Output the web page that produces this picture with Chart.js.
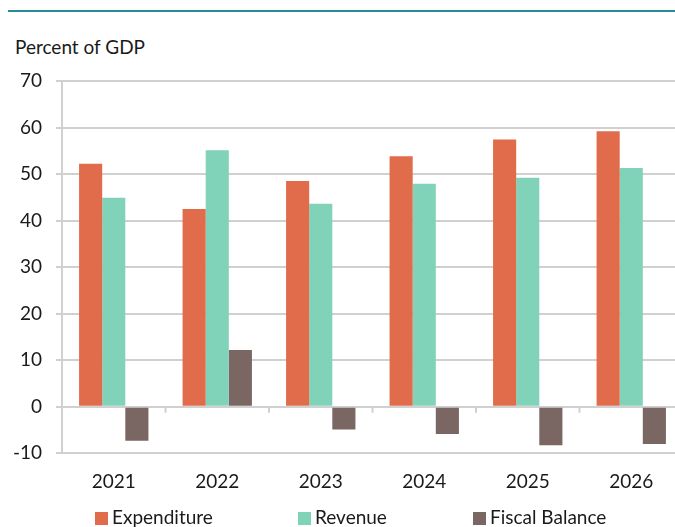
<!DOCTYPE html>
<html>
<head>
<meta charset="utf-8">
<script src="https://cdn.jsdelivr.net/npm/chart.js@4"></script>
<style>
    html, body { margin: 0; padding: 0; background: #fff; overflow: hidden; }
    body { width: 675px; height: 527px; position: relative; font-family: Lato, "Open Sans", sans-serif; color: #1a1a1a; }
    .topRule { position: absolute; left: 8px; right: 0; top: 10px; height: 2px; background: #2b8a98; }
    .unit { position: absolute; left: 15px; top: 35px; font-size: 19px; }
    .chartBox { position: absolute; left: 0; top: 0; width: 683px; height: 527px; }
    #legend { position: absolute; top: 505px; left: 0; width: 675px; height: 24px; font-size: 19px; }
    #legend span.item { position: absolute; top: 0; white-space: nowrap; }
    #legend i { display: inline-block; width: 13px; height: 13px; margin-right: 4px; vertical-align: -1px; }
</style>
</head>
<body>
<div class="topRule"></div>
<div class="unit">Percent of GDP</div>
<div class="chartBox"><canvas id="fiscalChart" width="683" height="527"></canvas></div>
<div id="legend"></div>
<script>
const years = ['2021', '2022', '2023', '2024', '2025', '2026'];
const expenditure = [52.2, 42.5, 48.5, 53.8, 57.4, 59.2];
const revenue = [44.9, 55.1, 43.6, 47.9, 49.2, 51.3];
const fiscalBalance = [-7.3, 12.2, -4.9, -5.9, -8.3, -8.0];

const seriesNames = ['Expenditure', 'Revenue', 'Fiscal Balance'];
const seriesColors = ['#e06c4b', '#80d2b9', '#7a6662'];
const legendLeft = [95, 298, 473];

const gridGray = '#d0d0d0';

// little ticks on the zero line between the years, like the original
const zeroTicks = {
    id: 'zeroTicks',
    afterDatasetsDraw(chart) {
        const x = chart.scales.x;
        const y0 = chart.scales.y.getPixelForValue(0);
        const c = chart.ctx;
        c.save();
        c.strokeStyle = gridGray;
        c.lineWidth = 2;
        for (let i = 0; i < years.length - 1; i++) {
            const px = (x.getPixelForValue(i) + x.getPixelForValue(i + 1)) / 2;
            c.beginPath();
            c.moveTo(px, y0);
            c.lineTo(px, y0 + 6);
            c.stroke();
        }
        c.restore();
    }
};

const values = [expenditure, revenue, fiscalBalance];

new Chart(document.getElementById('fiscalChart').getContext('2d'), {
    type: 'bar',
    data: {
        labels: years,
        datasets: seriesNames.map((name, i) => ({
            label: name,
            data: values[i],
            backgroundColor: seriesColors[i],
            borderWidth: 0,
            barPercentage: 1,
            categoryPercentage: 0.67
        }))
    },
    options: {
        responsive: false,
        animation: false,
        layout: { padding: { top: 81, bottom: 17, left: 0, right: 0 } },
        plugins: {
            legend: { display: false },
            tooltip: { enabled: false }
        },
        scales: {
            x: {
                grid: { display: false, drawTicks: false },
                border: { display: false },
                ticks: { color: '#1a1a1a', font: { family: 'Lato', size: 19 }, padding: 17 }
            },
            y: {
                min: -10,
                max: 70,
                afterFit: (scale) => { scale.width = 62; },
                grid: { color: gridGray, lineWidth: 2, tickLength: 6 },
                border: { color: gridGray, width: 2 },
                ticks: { stepSize: 10, color: '#1a1a1a', font: { family: 'Lato', size: 19 }, padding: 14 }
            }
        }
    },
    plugins: [zeroTicks]
});

const legend = document.getElementById('legend');
seriesNames.forEach((name, i) => {
    const item = document.createElement('span');
    item.className = 'item';
    item.style.left = legendLeft[i] + 'px';
    item.innerHTML = `<i style="background:${seriesColors[i]}"></i>${name}`;
    legend.appendChild(item);
});
</script>
</body>
</html>
